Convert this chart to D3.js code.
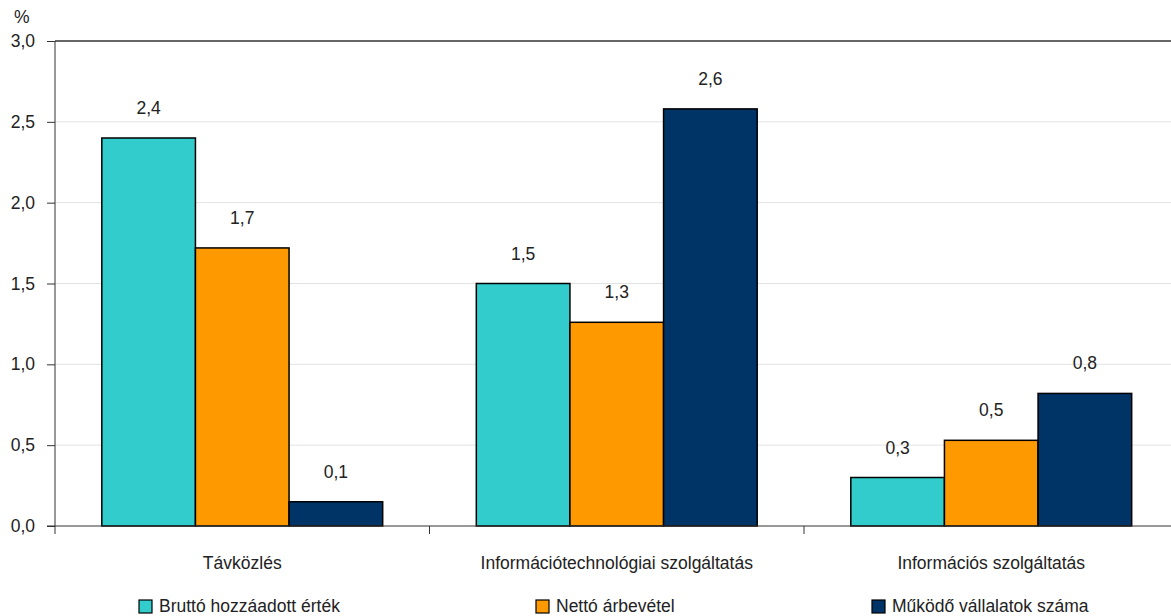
<!DOCTYPE html>
<html><head><meta charset="utf-8">
<script src="https://cdn.jsdelivr.net/npm/d3@7"></script>
<style>body{margin:0;background:#fff}svg{display:block;font-family:"Liberation Sans",Arial,sans-serif}</style>
</head><body><svg id="c" width="1171" height="616"></svg>
<script>
const categories = ["Távközlés", "Információtechnológiai szolgáltatás", "Információs szolgáltatás"];
const seriesNames = ["Bruttó hozzáadott érték", "Nettó árbevétel", "Működő vállalatok száma"];
const brutto = [2.4, 1.5, 0.3];
const netto = [1.72, 1.26, 0.53];
const mukodo = [0.15, 2.58, 0.82];
const valueLabels = [["2,4","1,7","0,1"],["1,5","1,3","2,6"],["0,3","0,5","0,8"]];
const yTicks = [0, 0.5, 1.0, 1.5, 2.0, 2.5, 3.0];
const colors = ["#33CCCC", "#FF9900", "#003366"];

const seriesValues = [brutto, netto, mukodo];

const svg = d3.select("#c");
const FS = 17.5;
const m = {l: 55, t: 41};
const W = 1171;
const x0 = d3.scaleBand().domain(categories).range([m.l, 1178.5]).paddingInner(0).paddingOuter(0);
const x1 = d3.scaleBand().domain(d3.range(3)).range([0, x0.bandwidth()]).paddingInner(0).paddingOuter(0.5);
const y = d3.scaleLinear().domain([0, 3]).range([526, m.t]);

// gridlines
svg.append("g").selectAll("line").data(yTicks.filter(t => t > 0 && t < 3)).join("line")
  .attr("x1", m.l).attr("x2", W).attr("y1", d => y(d)).attr("y2", d => y(d))
  .attr("stroke", "#e2e2e2").attr("stroke-width", 1);

// top frame line
svg.append("line").attr("x1", m.l).attr("x2", W).attr("y1", y(3)).attr("y2", y(3)).attr("stroke", "#333").attr("stroke-width", 1.5);

// bars
categories.forEach((c, ci) => {
  seriesValues.forEach((vals, si) => {
    const v = vals[ci];
    svg.append("rect")
      .attr("x", x0(c) + x1(si)).attr("y", y(v))
      .attr("width", x1.bandwidth()).attr("height", y(0) - y(v))
      .attr("fill", colors[si]).attr("stroke", "#000").attr("stroke-width", 1.5);
    svg.append("text")
      .attr("x", x0(c) + x1(si) + x1.bandwidth() / 2).attr("y", y(v) - 24)
      .attr("text-anchor", "middle").attr("font-size", FS).attr("fill", "#222")
      .text(valueLabels[ci][si]);
  });
});

// y axis
const yAxis = svg.append("g").attr("transform", `translate(${m.l},0)`)
  .call(d3.axisLeft(y).tickValues(yTicks).tickSize(8).tickPadding(12)
    .tickFormat(d => d3.format(".1f")(d).replace(".", ",")));
yAxis.selectAll("text").attr("font-size", FS).attr("fill", "#222").attr("font-family", "Liberation Sans, Arial, sans-serif");
yAxis.selectAll("line,path").attr("stroke", "#333");
yAxis.select(".domain").attr("d", `M0,${y(3)}V${y(0)}`);

svg.append("text").attr("x", 14).attr("y", 23).attr("font-size", FS).attr("fill", "#222").text("%");

// x axis
const xb = svg.append("g").attr("transform", `translate(0,${y(0)})`);
xb.append("line").attr("x1", m.l - 8).attr("x2", W).attr("stroke", "#333").attr("stroke-width", 1);
categories.forEach(c => {
  xb.append("line").attr("x1", x0(c)).attr("x2", x0(c)).attr("y1", 0).attr("y2", 8).attr("stroke", "#333");
});
categories.forEach(c => {
  xb.append("text").attr("x", x0(c) + x0.bandwidth() / 2).attr("y", 43)
    .attr("text-anchor", "middle").attr("font-size", FS).attr("fill", "#222").text(c);
});

// legend
const legendX = [139, 536, 872];
const lg = svg.append("g");
seriesNames.forEach((t, i) => {
  lg.append("rect").attr("x", legendX[i]).attr("y", 600).attr("width", 13).attr("height", 13)
    .attr("fill", colors[i]).attr("stroke", "#000").attr("stroke-width", 1.2);
  lg.append("text").attr("x", legendX[i] + 20).attr("y", 612).attr("font-size", FS).attr("fill", "#222").text(t);
});
</script></body></html>
